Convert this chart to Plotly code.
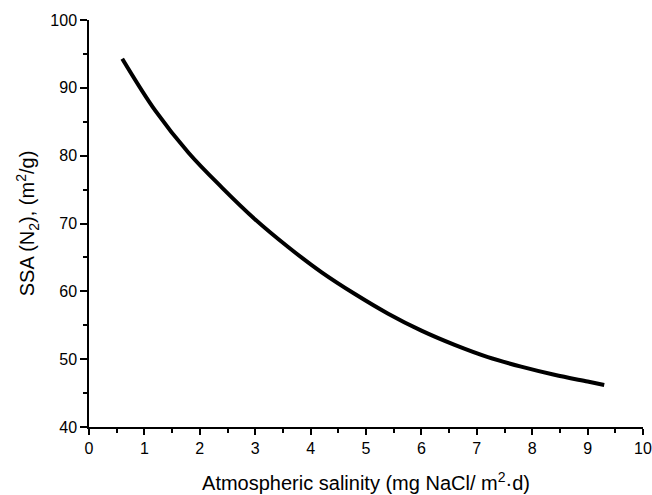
import plotly.graph_objects as go

salinity = [0.6, 1.2, 1.8, 2.4, 3.0, 3.6, 4.2, 4.8, 5.4, 6.0, 6.6, 7.2, 7.8, 8.4, 9.0, 9.3]
ssa = [94.3, 86.6, 80.4, 75.3, 70.6, 66.5, 62.8, 59.6, 56.7, 54.2, 52.1, 50.3, 48.9, 47.7, 46.7, 46.2]

x_ticks = [0, 1, 2, 3, 4, 5, 6, 7, 8, 9, 10]
y_ticks = [40, 50, 60, 70, 80, 90, 100]

fig = go.Figure()
fig.add_trace(go.Scatter(x=salinity, y=ssa, mode="lines",
                         line=dict(color="black", width=4, shape="spline"),
                         showlegend=False, cliponaxis=False, hoverinfo="skip"))

axis_common = dict(
    showgrid=False, zeroline=False, showline=True, linecolor="black", linewidth=1.5,
    ticks="outside", tickwidth=1.5, tickcolor="black",
    tickfont=dict(size=16, color="black"), automargin=False,
)

fig.update_xaxes(range=[0, 10], tickvals=x_ticks, ticktext=[str(v) for v in x_ticks],
                 ticklen=6,
                 minor=dict(ticks="outside", ticklen=4, tickwidth=1.5, tickcolor="black",
                            dtick=0.5, tick0=0),
                 title=dict(text="Atmospheric salinity (mg NaCl/ m<sup>2</sup>·d)",
                            font=dict(size=20, color="black"), standoff=20),
                 **axis_common)
fig.update_yaxes(range=[40, 100], tickvals=y_ticks, ticktext=[str(v) for v in y_ticks],
                 ticklen=7,
                 minor=dict(ticks="outside", ticklen=4, tickwidth=1.5, tickcolor="black",
                            dtick=5, tick0=40),
                 title=dict(text="SSA (N<sub>2</sub>), (m<sup>2</sup>/g)",
                            font=dict(size=20, color="black"), standoff=10),
                 **axis_common)

fig.update_layout(
    width=652, height=495,
    margin=dict(l=89, r=9, t=20, b=68),
    plot_bgcolor="white", paper_bgcolor="white",
    font=dict(family="Liberation Sans, Arial, sans-serif", color="black"),
)

fig.write_html("out.html", config={"displayModeBar": False},
               post_script="document.body.style.margin='0';document.body.style.overflow='hidden';")
